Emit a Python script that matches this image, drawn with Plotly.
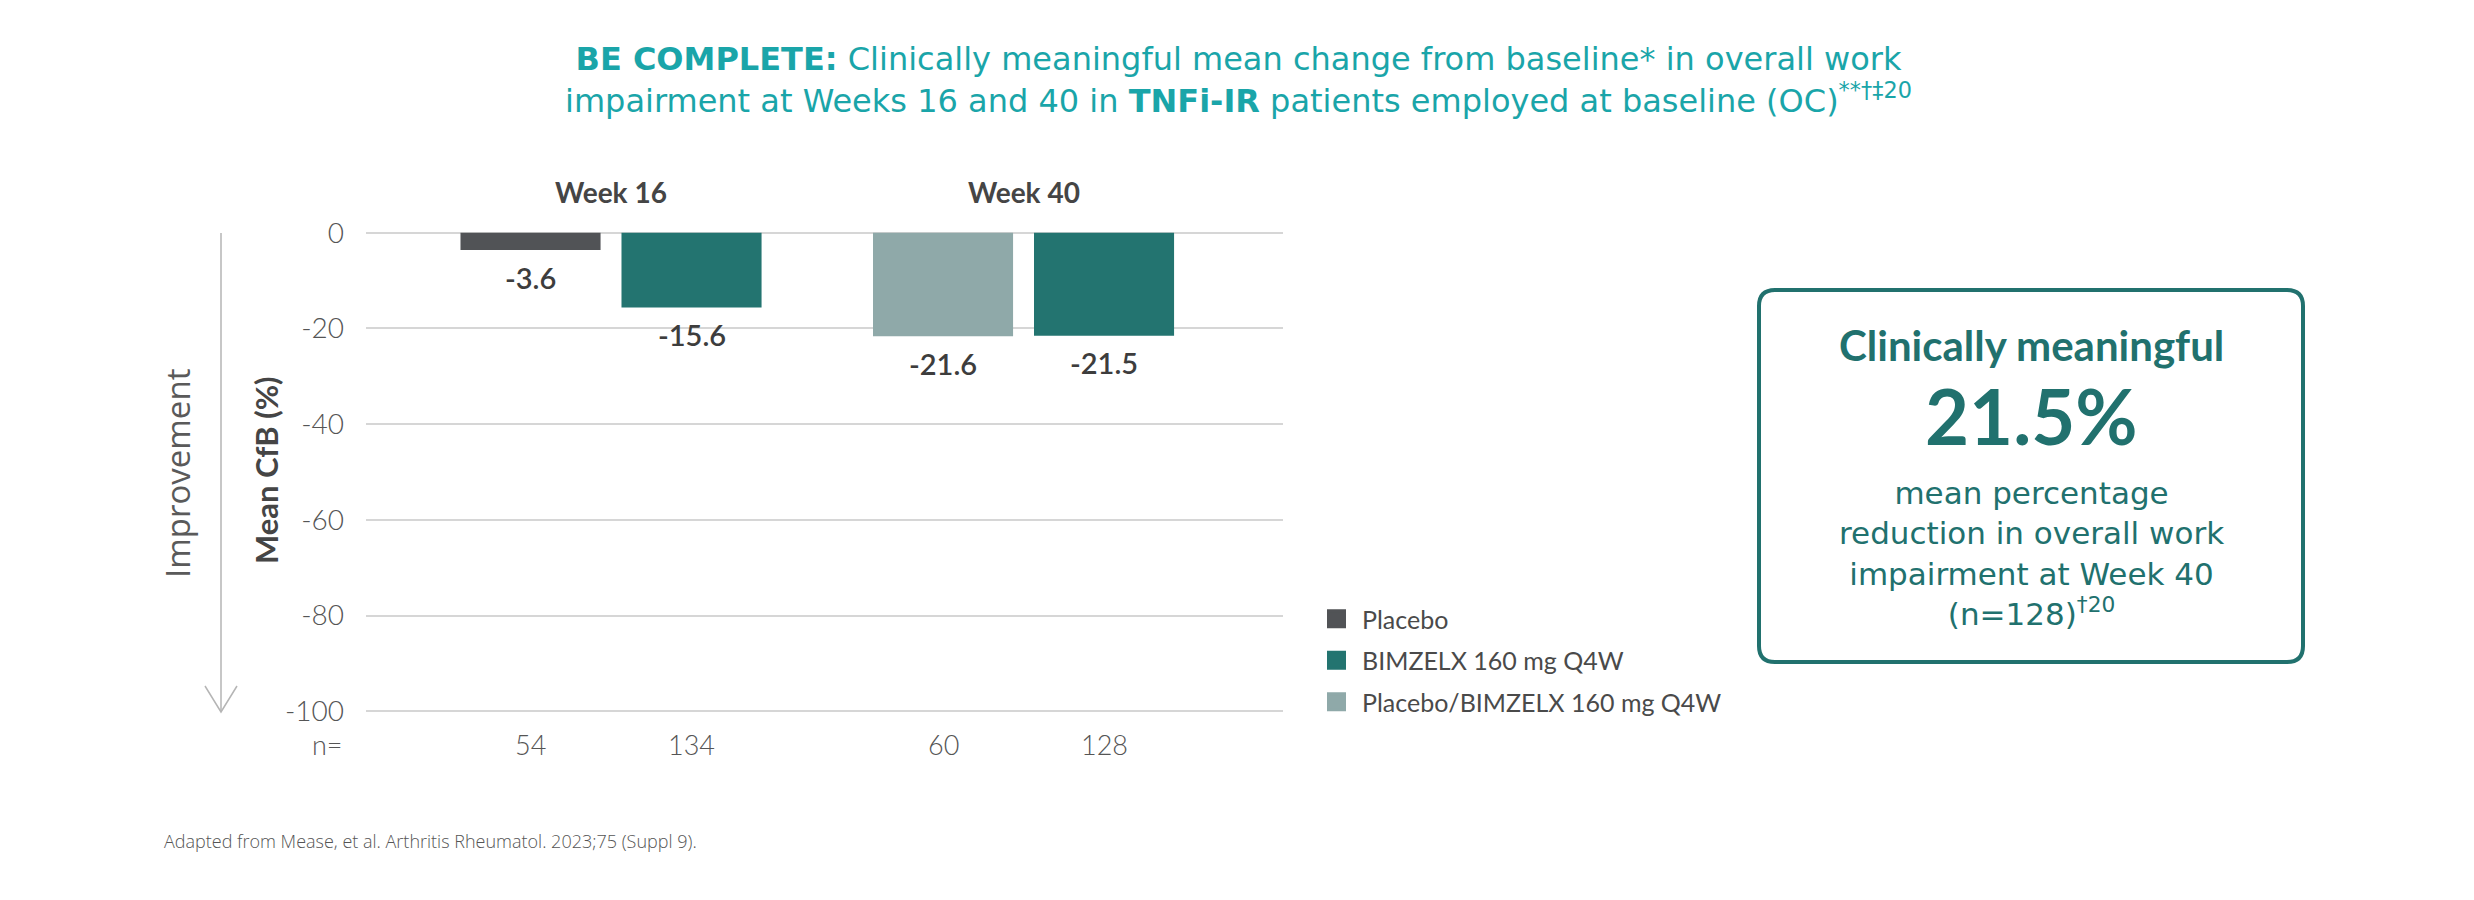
import plotly.graph_objects as go

# ---------------- data ----------------
categories = ["Week 16", "Week 40"]
series_names = ["Placebo", "BIMZELX 160 mg Q4W", "Placebo/BIMZELX 160 mg Q4W"]
placebo = [-3.6, None]
bimzelx = [-15.6, -21.5]
placebo_bimzelx = [None, -21.6]
n_left = [54, 60]      # placebo / placebo->BIMZELX arm
n_right = [134, 128]   # BIMZELX arm
y_ticks = [0, -20, -40, -60, -80, -100]
y_ticktext = [str(v) for v in y_ticks]

# ---------------- layout helpers ----------------
FIG_W, FIG_H = 2474, 900
OFF = 8                      # page body margin
PW, PH = 917, 488            # plot area size
L = 366 - OFF
T = 228 - OFF
R = FIG_W - L - PW
B = FIG_H - T - PH


def px_x(p):
    """screen pixel x -> paper x"""
    return (p - OFF - L) / PW


def px_y(p):
    """screen pixel y -> paper y"""
    return (FIG_H - B - (p - OFF)) / PH


FONT = "Lato"
WIDE = "Open Sans"
BROAD = "DejaVu Sans"
TEAL_TITLE = "#1aa5a9"
TEAL_DARK = "#21716e"
GRAY_TXT = "#555555"
DARK_TXT = "#3d3d3d"
colors = ["#515356", "#237470", "#8fa9a9"]

BARGAP = 0.2194
BARGROUPGAP = 0.13
slot = (1 - BARGAP) / 2
offsets = [-slot / 2, slot / 2]

fig = go.Figure()
fig.add_trace(go.Bar(x=categories, y=placebo, name=series_names[0], offsetgroup="A",
                     marker=dict(color=colors[0], line=dict(width=0)), showlegend=False))
fig.add_trace(go.Bar(x=categories, y=bimzelx, name=series_names[1], offsetgroup="B",
                     marker=dict(color=colors[1], line=dict(width=0)), showlegend=False))
fig.add_trace(go.Bar(x=categories, y=placebo_bimzelx, name=series_names[2], offsetgroup="A",
                     marker=dict(color=colors[2], line=dict(width=0)), showlegend=False))

# legend swatches
for i, nm in enumerate(series_names):
    fig.add_trace(go.Scatter(x=[None], y=[None], mode="markers", name=nm, legendgroup=nm,
                             marker=dict(symbol="square", size=20, color=colors[i],
                                         line=dict(color=colors[i], width=3)),
                             showlegend=True, hoverinfo="skip"))

ann = []
# week labels
for c in categories:
    ann.append(dict(x=c, xref="x", y=px_y(192), yref="paper", text="<b>%s</b>" % c,
                    showarrow=False, font=dict(family=FONT, size=28, color="#454545"),
                    xanchor="center", yanchor="middle"))

# value labels and n= row
left_vals = [placebo[0], placebo_bimzelx[1]]
right_vals = bimzelx
for gi in range(len(categories)):
    for off, v, n in ((offsets[0], left_vals[gi], n_left[gi]), (offsets[1], right_vals[gi], n_right[gi])):
        ann.append(dict(x=gi + off, xref="x", y=v, yref="y", text="%.1f" % v, showarrow=False,
                        yshift=-27, xanchor="center", yanchor="middle",
                        font=dict(family=FONT, size=29, color=DARK_TXT, weight=600)))
        ann.append(dict(x=gi + off, xref="x", y=px_y(744), yref="paper", text=str(n), showarrow=False,
                        xanchor="center", yanchor="middle",
                        font=dict(family=FONT, size=27, color=GRAY_TXT, weight=300)))

ann.append(dict(x=px_x(345), xref="paper", y=px_y(744), yref="paper", text="n=", showarrow=False,
                xanchor="right", yanchor="middle", font=dict(family=FONT, size=27, color=GRAY_TXT, weight=300)))

# axis titles
ann.append(dict(x=px_x(266), xref="paper", y=px_y(470), yref="paper", text="<b>Mean CfB (%)</b>",
                textangle=-90, showarrow=False, xanchor="center", yanchor="middle",
                font=dict(family=FONT, size=31, color="#454545")))
ann.append(dict(x=px_x(177), xref="paper", y=px_y(474), yref="paper", text="Improvement",
                textangle=-90, showarrow=False, xanchor="center", yanchor="middle",
                font=dict(family=WIDE, size=33, color="#5a5a5a")))

# title
title_text = ("<b>BE COMPLETE:</b> Clinically meaningful mean change from baseline* in overall work<br>"
              "impairment at Weeks 16 and 40 in <b>TNFi-IR</b> patients employed at baseline (OC)<sup>**†‡20</sup>")
ann.append(dict(x=px_x(1238), xref="paper", y=px_y(80), yref="paper", text=title_text, showarrow=False,
                xanchor="center", yanchor="middle", align="center",
                font=dict(family=BROAD, size=32, color=TEAL_TITLE)))

# info box text
BX = px_x(2031)
ann.append(dict(x=BX, xref="paper", y=px_y(345), yref="paper", text="<b>Clinically meaningful</b>",
                showarrow=False, xanchor="center", yanchor="middle",
                font=dict(family=FONT, size=42, color=TEAL_DARK)))
ann.append(dict(x=BX, xref="paper", y=px_y(415), yref="paper", text="<b>21.5%</b>",
                showarrow=False, xanchor="center", yanchor="middle",
                font=dict(family=FONT, size=76, color=TEAL_DARK)))
box_text = "mean percentage<br>reduction in overall work<br>impairment at Week 40<br>(n=128)<sup>†20</sup>"
ann.append(dict(x=BX, xref="paper", y=px_y(553), yref="paper", text=box_text, showarrow=False,
                xanchor="center", yanchor="middle", align="center",
                font=dict(family=BROAD, size=31, color=TEAL_DARK)))

# footnote
ann.append(dict(x=px_x(162), xref="paper", y=px_y(841), yref="paper",
                text="Adapted from Mease, et al. Arthritis Rheumatol. 2023;75 (Suppl 9).",
                showarrow=False, xanchor="left", yanchor="middle",
                font=dict(family=WIDE, size=18, color=GRAY_TXT, weight=300)))

# shapes: improvement arrow and rounded info box
shapes = []
AX = px_x(221)
shapes.append(dict(type="line", xref="paper", yref="paper", x0=AX, x1=AX, y0=px_y(233), y1=px_y(711),
                   line=dict(color="#b5b5b5", width=1.5)))
shapes.append(dict(type="path", xref="paper", yref="paper",
                   path="M%f,%f L%f,%f L%f,%f" % (px_x(205), px_y(686), AX, px_y(712), px_x(237), px_y(686)),
                   line=dict(color="#b5b5b5", width=1.5)))

bx0, bx1, by0, by1, rad = 1759, 2303, 290, 662, 16


def P(x, y):
    return "%f,%f" % (px_x(x), px_y(y))


box_path = ("M" + P(bx0 + rad, by0) + " L" + P(bx1 - rad, by0) + " Q" + P(bx1, by0) + " " + P(bx1, by0 + rad) +
            " L" + P(bx1, by1 - rad) + " Q" + P(bx1, by1) + " " + P(bx1 - rad, by1) +
            " L" + P(bx0 + rad, by1) + " Q" + P(bx0, by1) + " " + P(bx0, by1 - rad) +
            " L" + P(bx0, by0 + rad) + " Q" + P(bx0, by0) + " " + P(bx0 + rad, by0) + " Z")
shapes.append(dict(type="path", xref="paper", yref="paper", path=box_path,
                   line=dict(color=TEAL_DARK, width=4)))

fig.update_layout(
    width=FIG_W, height=FIG_H,
    margin=dict(l=L, r=R, t=T, b=B, pad=0),
    paper_bgcolor="white", plot_bgcolor="white",
    barmode="group", bargap=BARGAP, bargroupgap=BARGROUPGAP,
    showlegend=True,
    legend=dict(x=px_x(1311), y=px_y(596), xanchor="left", yanchor="top",
                font=dict(family=FONT, size=25, color="#4a4a4a"), itemwidth=41,
                tracegroupgap=6, traceorder="grouped", bgcolor="rgba(0,0,0,0)"),
    annotations=ann, shapes=shapes,
)
fig.update_xaxes(type="category", range=[-0.594, 1.629], showticklabels=False, showgrid=False,
                 zeroline=False, showline=False, ticks="")
fig.update_yaxes(range=[-101, 1], tickvals=y_ticks, ticktext=y_ticktext, showgrid=True,
                 gridcolor="#d6d6d6", gridwidth=2,
                 zeroline=False, showline=False, ticks="", ticklabelstandoff=21,
                 tickfont=dict(family=FONT, size=28, color=GRAY_TXT, weight=300))

fig.write_html("out.html")
